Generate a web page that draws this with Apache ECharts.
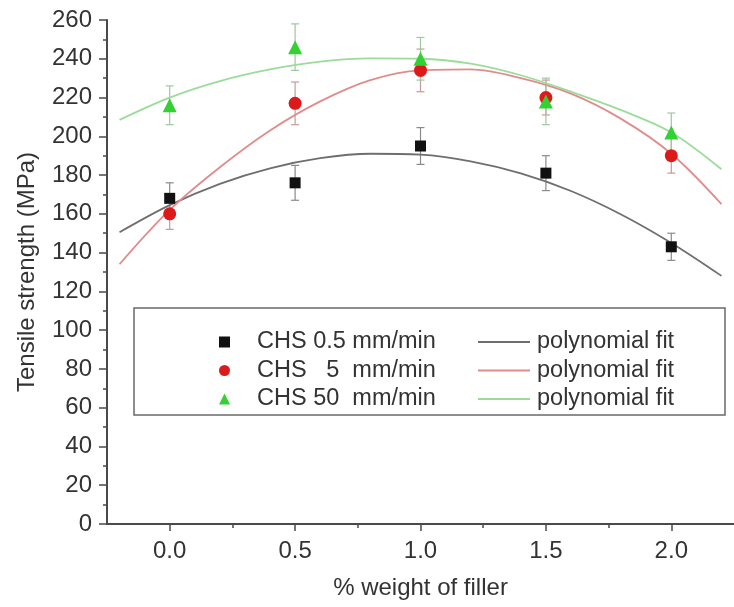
<!DOCTYPE html>
<html>
<head>
<meta charset="utf-8">
<script src="https://cdn.jsdelivr.net/npm/echarts@6/dist/echarts.min.js"></script>
<style>
html,body{margin:0;padding:0;background:#fff;}
#chart{width:734px;height:607px;}
</style>
</head>
<body>
<div id="chart"></div>
<script>
// ---- data ----
var fillerX = [0.0, 0.5, 1.0, 1.5, 2.0];
var chs05 = [168, 176, 195, 181, 143];
var chs05Err = [8, 9, 9.5, 9, 7];
var chs5 = [160, 217, 234, 220, 190];
var chs5Err = [8, 11, 11, 9, 9];
var chs50 = [216, 246, 240, 218, 202];
var chs50Err = [10, 12, 11, 12, 10];

var fitX = [-0.2, 0.0, 0.2, 0.4, 0.6, 0.8, 1.0, 1.2, 1.4, 1.6, 1.8, 2.0, 2.2];
var fit05 = [150.5, 164.5, 175.5, 183.5, 188.7, 191.0, 190.5, 187.1, 180.9, 171.8, 159.7, 145, 128];
var fit5 = [134, 162, 184, 203, 218, 229, 234, 234.5, 230, 222, 209, 191, 165];
var fit50 = [208.5, 220, 228.5, 234.5, 238.5, 240.2, 240, 237.5, 231.5, 223, 213.5, 202, 183];

var xMajorTicks = [0, 0.5, 1.0, 1.5, 2.0];
var xMinorTicks = [0.25, 0.75, 1.25, 1.75];

var seriesNames = ['CHS 0.5 mm/min', 'CHS   5  mm/min', 'CHS 50  mm/min'];
var fitNames = ['fit05', 'fit5', 'fit50'];
var fitLabel = 'polynomial fit';
var xName = '% weight of filler';
var yName = 'Tensile strength (MPa)';

// ---- build ----
function pairs(xs, ys) { return xs.map(function (x, i) { return [x, ys[i]]; }); }
function errData(xs, ys, es) { return xs.map(function (x, i) { return [x, ys[i] - es[i], ys[i] + es[i]]; }); }

var FONT = 'Liberation Sans, Arial, sans-serif';
var TXT = '#333333';
var AX = '#4a4a4a';

function errSeries(data, color) {
  return {
    type: 'custom',
    z: 1,
    silent: true,
    data: data,
    encode: { x: 0, y: [1, 2] },
    renderItem: function (params, api) {
      var x = api.value(0);
      var lo = api.coord([x, api.value(1)]);
      var hi = api.coord([x, api.value(2)]);
      var hw = 4;
      var st = { stroke: color, lineWidth: 1.2 };
      return {
        type: 'group',
        children: [
          { type: 'line', shape: { x1: lo[0], y1: lo[1], x2: hi[0], y2: hi[1] }, style: st },
          { type: 'line', shape: { x1: lo[0] - hw, y1: lo[1], x2: lo[0] + hw, y2: lo[1] }, style: st },
          { type: 'line', shape: { x1: hi[0] - hw, y1: hi[1], x2: hi[0] + hw, y2: hi[1] }, style: st }
        ]
      };
    }
  };
}

function fitSeries(name, ys, color) {
  return {
    name: name,
    type: 'line',
    data: pairs(fitX, ys),
    smooth: 0.35,
    symbol: 'none',
    z: 2,
    lineStyle: { color: color, width: 1.8 },
    itemStyle: { color: color }
  };
}

function dotSeries(name, ys, symbol, size, color) {
  return {
    name: name,
    type: 'scatter',
    data: pairs(fillerX, ys),
    symbol: symbol,
    symbolSize: size,
    z: 5,
    itemStyle: { color: color, opacity: 1 }
  };
}

var chart = echarts.init(document.getElementById('chart'), null, { renderer: 'canvas' });

var option = {
  backgroundColor: '#ffffff',
  animation: false,
  textStyle: { fontFamily: FONT },
  grid: { left: 107, right: -7, top: 20, bottom: 83, containLabel: false },
  graphic: [{
    type: 'rect',
    z: 0,
    shape: { x: 134, y: 308, width: 591, height: 107 },
    style: { fill: '#ffffff', stroke: '#6a6a6a', lineWidth: 1.5 }
  }],
  legend: [{
    orient: 'vertical',
    left: 219,
    top: 330,
    padding: 0,
    itemGap: 4.5,
    itemWidth: 11,
    itemHeight: 11,
    data: [
      { name: seriesNames[0], icon: 'rect' },
      { name: seriesNames[1], icon: 'circle' },
      { name: seriesNames[2], icon: 'triangle' }
    ],
    textStyle: { fontSize: 23.5, color: TXT, fontFamily: FONT, padding: [0, 0, 0, 22] },
    selectedMode: false
  }, {
    orient: 'vertical',
    left: 478,
    top: 330,
    padding: 0,
    itemGap: 4.5,
    itemWidth: 52,
    itemHeight: 2,
    data: [
      { name: fitNames[0], icon: 'rect' },
      { name: fitNames[1], icon: 'rect' },
      { name: fitNames[2], icon: 'rect' }
    ],
    formatter: function () { return fitLabel; },
    textStyle: { fontSize: 23.5, color: TXT, fontFamily: FONT, padding: [0, 0, 0, 2] },
    selectedMode: false
  }],
  xAxis: [{
    type: 'value',
    min: -0.25,
    max: 2.25,
    name: xName,
    nameLocation: 'middle',
    nameGap: 52,
    nameTextStyle: { fontSize: 24, color: TXT, fontFamily: FONT },
    axisLine: { show: true, onZero: false, lineStyle: { color: AX, width: 2 } },
    axisTick: { show: true, customValues: xMajorTicks, length: 7, lineStyle: { color: AX, width: 1.5 } },
    axisLabel: { show: true, customValues: xMajorTicks, fontSize: 24, color: TXT, margin: 15,
      formatter: function (v) { return v.toFixed(1); } },
    splitLine: { show: false }
  }, {
    type: 'value',
    min: -0.25,
    max: 2.25,
    position: 'bottom',
    axisLine: { show: false, onZero: false },
    axisTick: { show: true, customValues: xMinorTicks, length: 4, lineStyle: { color: AX, width: 1.5 } },
    axisLabel: { show: false },
    splitLine: { show: false }
  }],
  yAxis: {
    type: 'value',
    min: 0,
    max: 260,
    interval: 20,
    name: yName,
    nameLocation: 'middle',
    nameGap: 68,
    nameTextStyle: { fontSize: 24, color: TXT, fontFamily: FONT },
    axisLine: { show: true, onZero: false, lineStyle: { color: AX, width: 2 } },
    axisTick: { show: true, length: 8, lineStyle: { color: AX, width: 1.5 } },
    minorTick: { show: true, splitNumber: 2, length: 4, lineStyle: { color: AX, width: 1.5 } },
    axisLabel: { fontSize: 24, color: TXT, margin: 15 },
    splitLine: { show: false }
  },
  series: [
    errSeries(errData(fillerX, chs05, chs05Err), '#8a8a8a'),
    errSeries(errData(fillerX, chs5, chs5Err), '#c79a9a'),
    errSeries(errData(fillerX, chs50, chs50Err), '#9ec89e'),
    fitSeries(fitNames[0], fit05, '#6e6e6e'),
    fitSeries(fitNames[1], fit5, '#e08c8c'),
    fitSeries(fitNames[2], fit50, '#9bdc9b'),
    dotSeries(seriesNames[0], chs05, 'rect', 11, '#111111'),
    dotSeries(seriesNames[1], chs5, 'circle', 13, '#dd1a1a'),
    dotSeries(seriesNames[2], chs50, 'triangle', 14, '#33d133')
  ]
};
chart.setOption(option);
</script>
</body>
</html>
